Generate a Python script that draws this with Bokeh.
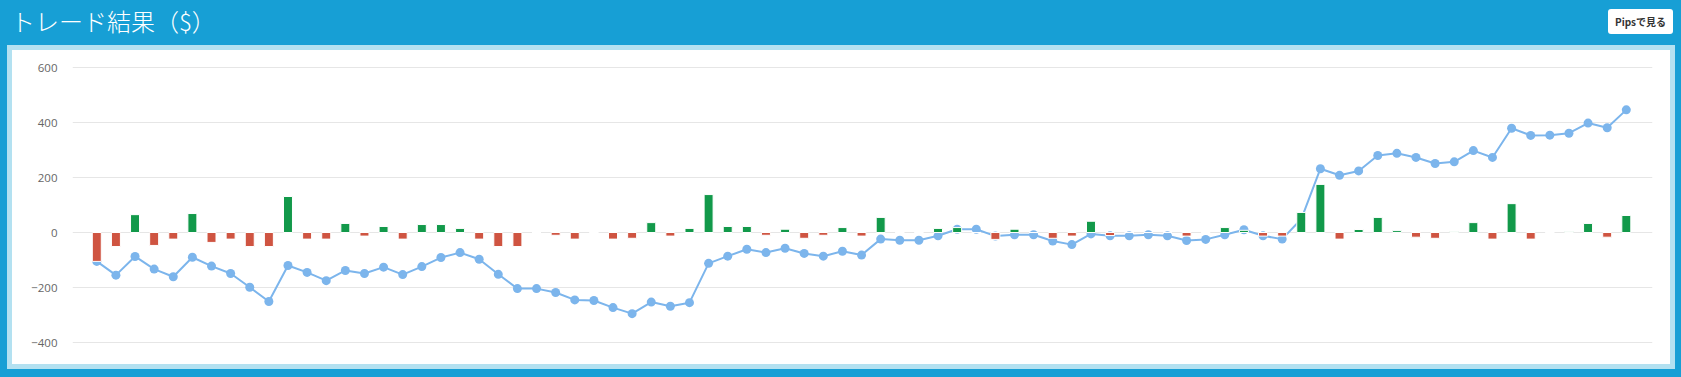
from bokeh.plotting import figure
from bokeh.models import Range1d, FixedTicker, Div, Spacer, ColumnDataSource
from bokeh.layouts import column, row
from bokeh.embed import file_html
from bokeh.resources import INLINE

# ---- data ----
title_text = "トレード結果（$）"
button_text = "Pipsで見る"
y_ticks = [-400, -200, 0, 200, 400, 600]

trade_index = list(range(81))
trade_pnl = [
    -105, -51, 65, -47, -24, 69, -36, -24, -51, -51,
    131, -24, -24, 33, -13, 22, -24, 29, 29, 15,
    -24, -51, -51, 0, -10, -24, 0, -24, -21, 36,
    -13, 15, 138, 22, 22, -10, 12, -21, -10, 18,
    -13, 55, 0, 0, 15, 18, 0, -25, 12, 0,
    -21, -13, 41, -11, 0, 0, 0, -13, 0, 18,
    8, -13, -13, 73, 175, -24, 11, 55, 7, -17,
    -21, 4, 36, -24, 105, -24, 0, 4, 33, -17, 62,
]
cumulative = [
    -105, -155, -87, -133, -161, -90, -122, -149, -199, -251,
    -120, -145, -175, -138, -149, -126, -153, -124, -91, -73,
    -97, -152, -204, -204, -218, -245, -247, -273, -295, -253,
    -268, -255, -112, -86, -61, -73, -57, -76, -86, -68,
    -82, -24, -28, -28, -12, 12, 12, -13, -8, -8,
    -31, -44, -5, -12, -12, -8, -12, -29, -25, -8,
    10, -12, -24, 49, 232, 208, 224, 280, 288, 273,
    251, 257, 298, 273, 379, 353, 354, 361, 398, 381, 446,
]

# ---- styles ----
BLUE = "#179fd5"
LIGHT_BLUE = "#b3e1f1"
GREEN = "#12994a"
RED = "#cf5441"
LINE = "#7cb5ec"

bar_colors = [GREEN if v >= 0 else RED for v in trade_pnl]
bars = ColumnDataSource(dict(x=trade_index, top=trade_pnl, color=bar_colors))
line_src = ColumnDataSource(dict(x=trade_index, y=cumulative))

p = figure(
    width=1658, height=314,
    x_range=Range1d(-1.271, 81.37),
    y_range=Range1d(-429, 625.5),
    output_backend="svg", toolbar_location=None,
    min_border_left=60, min_border_right=18,
    min_border_top=10, min_border_bottom=14,
    styles={"background-color": "white"},
)
p.background_fill_color = "white"
p.border_fill_color = "white"
p.outline_line_color = None

p.xaxis.visible = False
p.xgrid.visible = False

p.yaxis.ticker = FixedTicker(ticks=y_ticks)
p.ygrid.ticker = FixedTicker(ticks=y_ticks)
p.ygrid.grid_line_color = "#e6e6e6"
p.ygrid.grid_line_width = 1
p.yaxis.axis_line_color = None
p.yaxis.major_tick_line_color = None
p.yaxis.minor_tick_line_color = None
p.yaxis.major_tick_out = 0
p.yaxis.major_tick_in = 0
p.yaxis.major_label_standoff = 15
p.yaxis.major_label_text_color = "#666666"
p.yaxis.major_label_text_font = "Open Sans"
p.yaxis.major_label_text_font_size = "11.5px"

p.line("x", "y", source=line_src, line_color=LINE, line_width=2)
p.scatter("x", "y", source=line_src, size=9, fill_color=LINE, line_color=None)
p.vbar(x="x", top="top", bottom=0, width=0.47, source=bars,
       fill_color="color", line_color="white", line_width=1)

header_html = (
    '<div style="position:relative;width:1681px;height:45px;">'
    '<span style="position:absolute;left:11px;top:7px;color:#ffffff;'
    'font-family:\'Noto Sans CJK JP\';font-size:24px;font-weight:300;'
    'line-height:28px;white-space:nowrap;">' + title_text + '</span>'
    '<span style="position:absolute;left:1608px;top:9px;background:#ffffff;color:#333333;'
    'font-family:\'Noto Sans CJK JP\';font-size:10px;font-weight:bold;border-radius:3px;'
    'width:65px;height:25px;line-height:25px;text-align:center;'
    'white-space:nowrap;">' + button_text + '</span></div>'
)
header = Div(text=header_html, width=1681, height=45,
             styles={"background-color": BLUE, "margin": "0", "padding": "0"})

inner = column(
    Spacer(width=1668, height=5, styles={"background-color": LIGHT_BLUE}),
    row(
        Spacer(width=5, height=314, styles={"background-color": LIGHT_BLUE}),
        p,
        Spacer(width=5, height=314, styles={"background-color": LIGHT_BLUE}),
        styles={"background-color": "white"},
    ),
    Spacer(width=1668, height=5, styles={"background-color": LIGHT_BLUE}),
)
middle = row(
    Spacer(width=7, height=324, styles={"background-color": BLUE}),
    inner,
    Spacer(width=6, height=324, styles={"background-color": BLUE}),
)
layout = column(
    header,
    middle,
    Spacer(width=1681, height=8, styles={"background-color": BLUE}),
    styles={"background-color": BLUE},
)

open("out.html", "w").write(file_html(layout, INLINE))
